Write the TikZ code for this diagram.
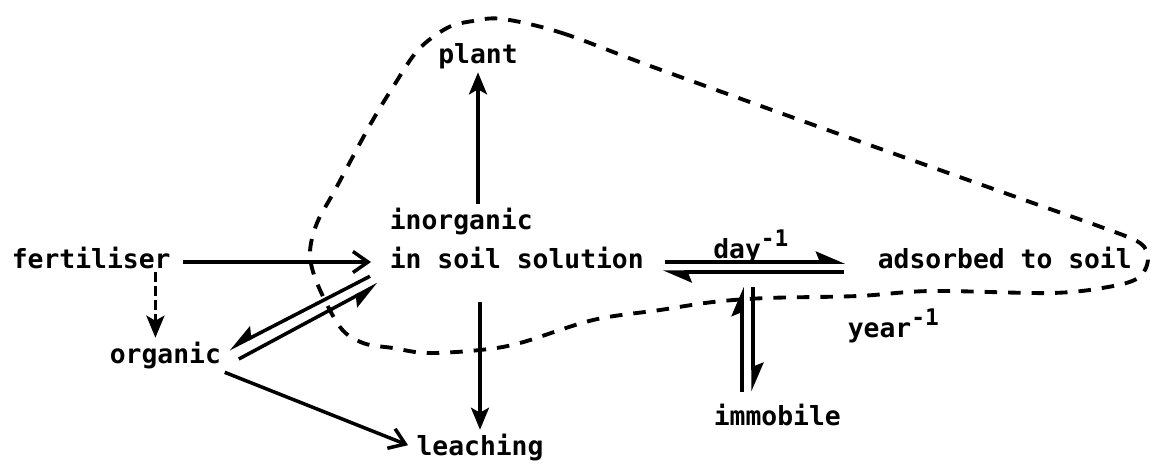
\documentclass[tikz,border=0pt]{standalone}
\usepackage{fontspec}
\setmainfont{DejaVu Sans Mono}
\usetikzlibrary{arrows.meta, calc}

\newcommand{\perunit}[1]{#1\raisebox{0.8ex}{\fontsize{13}{13}\selectfont -1}}

\begin{document}
\begin{tikzpicture}[
    x=0.02cm, y=-0.02cm,
    every node/.style={font=\fontsize{15}{18}\selectfont\bfseries, inner sep=2pt},
    txt/.style={anchor=base west},
    arrow/.style={-{Stealth[length=0.44cm, width=0.36cm, inset=0.1cm]}, line width=2pt},
    openarrow/.style={-{Straight Barb[length=0.3cm, width=0.42cm, line width=2pt]}, line width=2pt},
    harpl/.style={-{Stealth[harpoon, length=0.5cm, width=0.42cm, inset=0.08cm]}, line width=2pt},
    harpr/.style={-{Stealth[harpoon, swap, length=0.5cm, width=0.42cm, inset=0.08cm]}, line width=2pt},
    dasharrow/.style={arrow, dash pattern=on 0.2cm off 0.08cm},
    boundary/.style={dash pattern=on 0.25cm off 0.22cm, line width=2.2pt}
]
\useasboundingbox (0,0) rectangle (1151,468);

\node[txt] (fert) at (8,268) {fertiliser};
\node[txt] (inorg) at (386,229) {inorganic};
\node[txt] (soil) at (386,268) {in soil solution};
\node[txt] (ads) at (874,268) {adsorbed to soil};
\node[anchor=base] (plant) at (478,63) {plant};
\node[txt] (org) at (106,363) {organic};
\node[anchor=base] (leach) at (480,455) {leaching};
\node[txt] (imm) at (710,425) {immobile};
\node[txt] (yr) at (844,337) {\perunit{year}};

\draw[arrow] (inorg.north -| plant) -- (plant);
\draw[arrow, shorten <=0.6cm] (soil.south -| leach) -- (leach);
\draw[openarrow, shorten <=0.18cm, shorten >=0.3cm] ([yshift=0.12cm]fert.base east) -- ([yshift=0.12cm]soil.base west);
\draw[dasharrow] ($(org.north |- fert.south)+(-10,0)$) -- ($(org.north)+(-10,0)$);
\draw[openarrow, shorten >=0.1cm] (org.south east) -- (leach.west);

\draw[harpr] ($(soil.south west)+(-16,4)$) -- ($(org.east)+(4,-6)$);
\draw[harpr] ($(org.east)+(14,4)$) -- ($(soil.south west)+(-8,12)$);

\draw[harpl, shorten <=0.34cm, shorten >=0.58cm] ([yshift=0.12cm]soil.base east) -- node[pos=0.456, anchor=base, yshift=0.08cm] (day) {\perunit{day}} ([yshift=0.12cm]ads.base west);
\draw[harpl, shorten <=0.6cm, shorten >=0.3cm] ([yshift=-0.08cm]ads.base west) -- ([yshift=-0.08cm]soil.base east);

\draw[harpl] ($(imm.north west)+(32,-8)$) -- ($(imm.north west |- soil.base)+(32,19)$);
\draw[harpl] ($(imm.north west |- soil.base)+(43,19)$) -- ($(imm.north west)+(43,-8)$);

\draw[boundary] plot[smooth cycle, tension=0.55] coordinates {
    (503,19) (562,33) (653,67) (850,138) (1033,203) (1101,227) (1140,243)
    (1148,260) (1138,278) (1108,287) (1051,293) (931,291) (858,296) (767,298)
    (713,302) (660,310) (593,320) (520,343) (480,350) (427,353) (393,348)
    (363,343) (340,327) (317,283) (310,253) (317,223) (335,190) (370,125)
    (393,87) (418,50) (447,28) (473,21)};
\end{tikzpicture}
\end{document}
